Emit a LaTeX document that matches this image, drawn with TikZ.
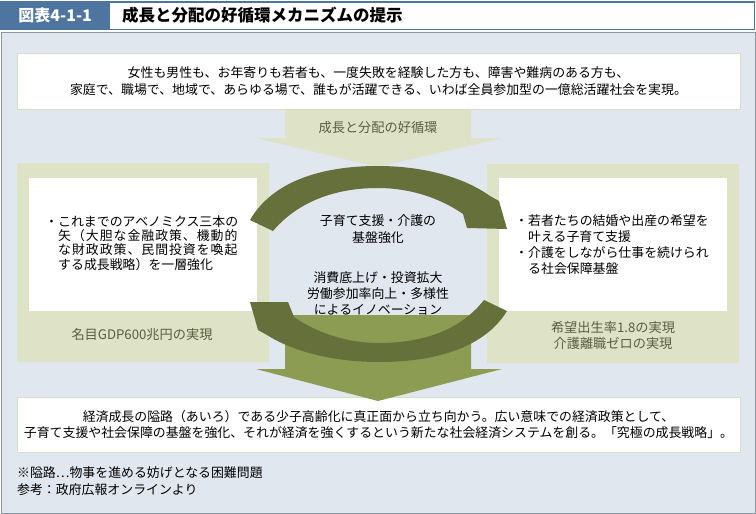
\documentclass[tikz,border=0pt]{standalone}
\usepackage{fontspec}
\setmainfont{Noto Sans CJK JP}
\definecolor{titleblue}{RGB}{78,116,160}
\definecolor{panelbg}{RGB}{224,231,239}
\definecolor{panelborder}{RGB}{140,150,158}
\definecolor{khaki}{RGB}{222,227,200}
\definecolor{darkolive}{RGB}{102,112,58}
\definecolor{lightolive}{RGB}{140,157,83}
\definecolor{labeltext}{RGB}{88,94,62}
\definecolor{boxline}{RGB}{214,222,196}
\begin{document}
\begin{tikzpicture}[x=1pt,y=-1pt,
  jp/.style={font=\fontsize{12.9}{16}\selectfont, inner sep=0pt},
  whitebox/.style={fill=white, draw=boxline, line width=0.6pt, inner sep=0pt},
  plainwhite/.style={fill=white, draw=none, inner sep=0pt},
  khakipanel/.style={fill=khaki, draw=none, inner sep=0pt},
  khakilabel/.style={jp, text=labeltext, align=center, font=\fontsize{13.2}{16}\selectfont}]
\useasboundingbox (0,0) rectangle (756,514);

% title bar
\draw[titleblue, line width=1.5pt, fill=white] (0.75,2) rectangle (754.5,29.5);
\node[fill=titleblue, minimum width=110pt, minimum height=29.5pt, inner sep=0pt, anchor=north west,
  text=white, font=\fontsize{16}{16}\bfseries\selectfont] (fignum) at (0,0.5) {図表4-1-1};
\node[anchor=west, inner sep=0pt, font=\fontsize{16.5}{16.5}\bfseries\selectfont] (title) at (122,15.5) {成長と分配の好循環メカニズムの提示};

% main panel
\draw[panelborder, fill=panelbg, line width=1pt] (1,32.5) rectangle (755,513);

% top khaki arrow
\fill[khaki] (285,109) -- (471,109) -- (471,138) -- (502,138) -- (378,167) -- (256,138) -- (285,138) -- cycle;
\node[khakilabel] (cyclelbl) at (378,127.5) {成長と分配の好循環};

% top white box
\node[whitebox, minimum width=723pt, minimum height=56pt, align=center, jp,
  font=\fontsize{12.9}{16.5}\selectfont] (topbox) at (378.5,81)
  {女性も男性も、お年寄りも若者も、一度失敗を経験した方も、障害や難病のある方も、\\
   家庭で、職場で、地域で、あらゆる場で、誰もが活躍できる、いわば全員参加型の一億総活躍社会を実現。};

% side panels
\node[khakipanel, minimum width=252pt, minimum height=199pt] (leftpanel) at (143,262.5) {};
\node[khakipanel, minimum width=252pt, minimum height=199pt] (rightpanel) at (613,263.5) {};
\node[plainwhite, minimum width=228pt, minimum height=133pt] (leftbox) at (143,244.5) {};
\node[plainwhite, minimum width=228pt, minimum height=133pt] (rightbox) at (613,244.5) {};

\node[jp, anchor=west, align=left, font=\fontsize{12.9}{14.3}\selectfont] (lefttext) at (48,243)
  {\makebox[10pt][l]{\hspace{-3pt}・}これまでのアベノミクス三本の\\
   \hspace*{10pt}{\addfontfeature{LetterSpace=7.5}矢（大胆な金融政策、機動的}\\
   \hspace*{10pt}{\addfontfeature{LetterSpace=7.5}な財政政策、民間投資を喚起}\\
   \hspace*{10pt}する成長戦略）を一層強化};
\node[jp, anchor=west, align=left, font=\fontsize{12.9}{16}\selectfont] (righttext) at (518,245)
  {\makebox[10pt][l]{\hspace{-3pt}・}若者たちの結婚や出産の希望を\\
   \hspace*{10pt}叶える子育て支援\\
   \makebox[10pt][l]{\hspace{-3pt}・}介護をしながら仕事を続けられ\\
   \hspace*{10pt}る社会保障基盤};

\node[khakilabel] (leftlbl) at (142,335) {名目GDP600兆円の実現};
\node[khakilabel] (rightlbl) at (613,336) {希望出生率1.8の実現\\介護離職ゼロの実現};

% bottom white box
\node[whitebox, minimum width=723pt, minimum height=55pt, align=center, jp] (bottombox) at (378.5,424.5)
  {経済成長の隘路（あいろ）である少子高齢化に真正面から立ち向かう。広い意味での経済政策として、\\
   子育て支援や社会保障の基盤を強化、それが経済を強くするという新たな社会経済システムを創る。「究極の成長戦略」。};

% bottom light olive arrow
\fill[lightolive] (285,315) -- (471,315) -- (471,369) -- (502,369) -- (378,401) -- (256,369) -- (285,369) -- cycle;

% cycle arrows (upper: left to right; lower: right to left)
\fill[darkolive] (250,220) .. controls (272,182) and (320,166) .. (378,166)
  .. controls (425,166) and (465,178) .. (490,196) -- (499,201) -- (507,229) -- (467,228) -- (463,214)
  .. controls (440,198) and (410,188) .. (378,188)
  .. controls (330,188) and (295,205) .. (273,231) -- cycle;
\fill[darkolive] (507,311) .. controls (485,347) and (437,362) .. (379,362)
  .. controls (332,362) and (292,351) .. (267,335) -- (258,330) -- (250,302) -- (288,302) -- (294,317)
  .. controls (317,333) and (347,343) .. (379,343)
  .. controls (427,343) and (462,328) .. (484,300) -- cycle;

% center texts
\node[jp, align=center, font=\fontsize{12.9}{17}\selectfont] (centertop) at (378,229.5) {子育て支援・介護の\\基盤強化};
\node[jp, align=center] (centerbot) at (378,293) {消費底上げ・投資拡大\\労働参加率向上・多様性\\によるイノベーション};

% footnotes
\node[jp, anchor=west] (note1) at (17,473) {※隘路⋯物事を進める妨げとなる困難問題};
\node[jp, anchor=west] (note2) at (17,490) {参考：政府広報オンラインより};
\end{tikzpicture}
\end{document}
